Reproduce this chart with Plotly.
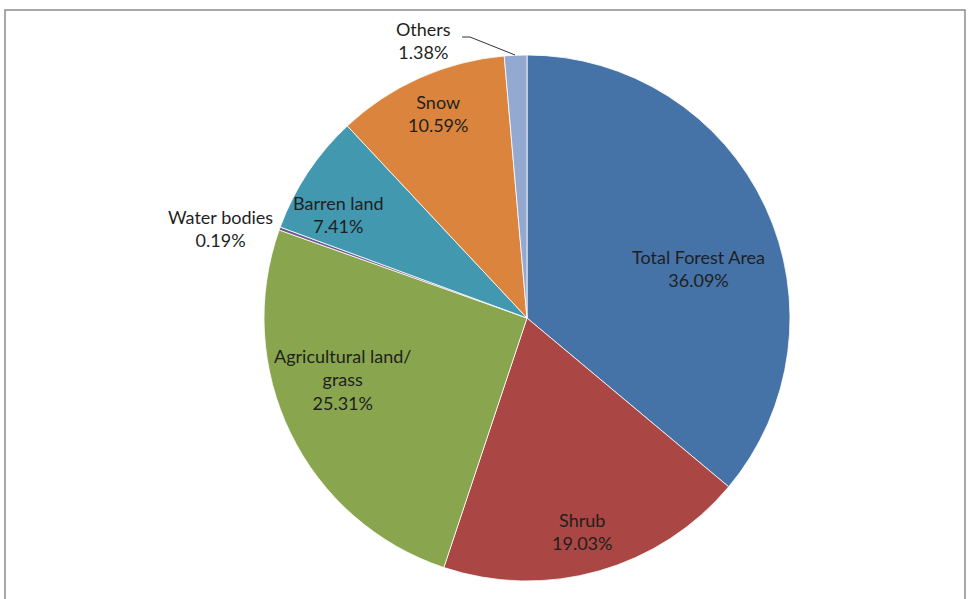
import plotly.graph_objects as go

labels = ["Total Forest Area", "Shrub", "Agricultural land/ grass", "Water bodies",
          "Barren land", "Snow", "Others"]
values = [36.09, 19.03, 25.31, 0.19, 7.41, 10.59, 1.38]
colors = ["#4572A7", "#AA4643", "#89A54E", "#71588F", "#4198AF", "#DB843D", "#93A9CF"]
# display text lines for each label
label_lines = ["Total Forest Area", "Shrub", "Agricultural land/<br>grass", "Water bodies",
               "Barren land", "Snow", "Others"]

W, H = 969, 599
cx, cy, r = 527, 318, 263
# label centre positions in pixels (style/layout)
label_pos = [(698, 268), (582, 531), (342, 379), (220, 228), (338, 214), (438, 113), (423, 41)]

fig = go.Figure(go.Pie(
    labels=labels, values=values, sort=False, direction="clockwise", rotation=0,
    marker=dict(colors=colors, line=dict(color="white", width=0.8)),
    textinfo="none", hoverinfo="label+percent", showlegend=False,
    domain=dict(x=[(cx - r) / W, (cx + r) / W], y=[1 - (cy + r) / H, 1 - (cy - r) / H]),
))

annotations = []
for lab, val, (px, py) in zip(label_lines, values, label_pos):
    annotations.append(dict(
        x=px / W, y=1 - py / H, xref="paper", yref="paper",
        text=f"{lab}<br>{val:.2f}%", showarrow=False,
        font=dict(family="Lato, 'Open Sans', sans-serif", size=18, color="#1f1f1f"),
        align="center", xanchor="center", yanchor="middle",
    ))

shapes = [
    dict(type="line", xref="paper", yref="paper",
         x0=470 / W, y0=1 - 37 / H, x1=515 / W, y1=1 - 55 / H,
         line=dict(color="#333333", width=1)),
    dict(type="line", xref="paper", yref="paper",
         x0=462 / W, y0=1 - 37 / H, x1=470 / W, y1=1 - 37 / H,
         line=dict(color="#333333", width=1)),
    dict(type="path", xref="paper", yref="paper",
         path=f"M {5/W},{-0.05} L {5/W},{1-10/H} L {965/W},{1-10/H} L {965/W},{-0.05}",
         line=dict(color="#8c8c8c", width=1.5)),
]

fig.update_layout(
    width=W, height=H, margin=dict(l=0, r=0, t=0, b=0),
    paper_bgcolor="white", plot_bgcolor="white",
    annotations=annotations, shapes=shapes,
)
fig.write_html("out.html")
